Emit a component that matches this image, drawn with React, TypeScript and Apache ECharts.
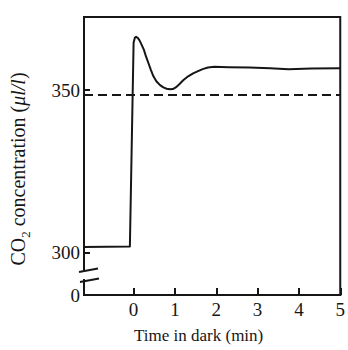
import React, { useEffect, useRef } from 'react';
import * as echarts from 'echarts';

const time = [-1.2, -0.09, 0.0, 0.03, 0.06, 0.1, 0.14, 0.19, 0.25, 0.3, 0.36, 0.42, 0.48, 0.55, 0.64, 0.72, 0.8, 0.88, 0.95, 1.02, 1.1, 1.2, 1.32, 1.44, 1.56, 1.67, 1.8, 1.95, 2.3, 2.8, 3.3, 3.75, 4.3, 5];
const co2 = [301.8, 302.0, 364.5, 366.0, 366.3, 366.0, 365.3, 364.0, 362.3, 360.3, 358.2, 356.1, 354.2, 352.7, 351.5, 350.8, 350.4, 350.2, 350.3, 350.8, 351.7, 353.0, 354.2, 355.1, 355.8, 356.4, 356.9, 357.1, 357.0, 356.9, 356.7, 356.4, 356.6, 356.7];
const ambientLevel = 348.5;
const xTickValues = [0, 1, 2, 3, 4, 5];
const yTickValues = [300, 350];
const yZeroValue = 287.1; // bottom of broken axis, labelled "0"
const breakUpper = 294.8;
const breakLower = 291.7;
const xMin = -1.2;
const xMax = 5;
const yMax = 372.4;

const FONT = 'Liberation Serif';
const INK = '#161616';

export default function App() {
  const ref = useRef<HTMLDivElement>(null);
  useEffect(() => {
    if (!ref.current) return;
    const chart = echarts.init(ref.current, null, { renderer: 'svg' });
    const data = time.map((t, i) => [t, co2[i]]);
    chart.setOption({
      animation: false,
      backgroundColor: '#ffffff',
      grid: {
        left: 82,
        right: 5,
        top: 17,
        bottom: 55,
        show: true,
        borderColor: INK,
        borderWidth: 2,
        backgroundColor: 'transparent',
      },
      xAxis: {
        type: 'value',
        min: xMin,
        max: xMax,
        name: 'Time in dark (min)',
        nameLocation: 'middle',
        nameGap: 32,
        nameTextStyle: { fontFamily: FONT, fontSize: 17, color: INK, padding: [0, 27, 0, 0] },
        axisLine: { show: true, onZero: false, lineStyle: { color: INK, width: 2 } },
        axisTick: { show: true, inside: true, length: 7, customValues: xTickValues, lineStyle: { color: INK, width: 2 } },
        axisLabel: { customValues: xTickValues, fontFamily: FONT, fontSize: 19, color: INK, margin: 5 },
        splitLine: { show: false },
      },
      yAxis: {
        type: 'value',
        min: yZeroValue,
        max: yMax,
        name: '{a|CO}{s|2}{a| concentration (}{i|μl/l}{a|)}',
        nameLocation: 'middle',
        nameGap: 56,
        nameTextStyle: {
          color: INK,
          padding: [0, 26, 0, 0],
          rich: {
            a: { fontFamily: FONT, fontSize: 20, color: INK },
            s: { fontFamily: FONT, fontSize: 13, color: INK, verticalAlign: 'bottom', padding: [0, 0, -4, 0] },
            i: { fontFamily: FONT, fontSize: 20, color: INK, fontStyle: 'italic' },
          },
        },
        axisLine: { show: true, onZero: false, lineStyle: { color: INK, width: 2 } },
        axisTick: { show: true, inside: true, length: 6, customValues: yTickValues, lineStyle: { color: INK, width: 2 } },
        axisLabel: {
          customValues: [yZeroValue, ...yTickValues],
          formatter: (v: number) => (v < 295 ? '0' : String(Math.round(v))),
          fontFamily: FONT,
          fontSize: 19,
          color: INK,
          margin: 4,
        },
        splitLine: { show: false },
      },
      series: [
        {
          type: 'line',
          data,
          showSymbol: false,
          smooth: false,
          lineStyle: { color: INK, width: 2, join: 'round' },
          markLine: {
            silent: true,
            symbol: 'none',
            label: { show: false },
            lineStyle: { color: INK, width: 2, type: [9, 5] },
            data: [{ yAxis: ambientLevel }],
          },
        },
      ],
    });

    const up = chart.convertToPixel({ gridIndex: 0 }, [xMin, breakUpper]) as number[];
    const lo = chart.convertToPixel({ gridIndex: 0 }, [xMin, breakLower]) as number[];
    const ax = up[0];
    chart.setOption({
      graphic: [
        { type: 'rect', shape: { x: ax - 3, y: up[1] + 1, width: 6, height: lo[1] - up[1] - 2 }, style: { fill: '#ffffff' }, z: 100 },
        { type: 'line', shape: { x1: ax - 5, y1: up[1] + 2, x2: ax + 14, y2: up[1] - 1.5 }, style: { stroke: INK, lineWidth: 2 }, z: 101 },
        { type: 'line', shape: { x1: ax - 4, y1: lo[1] + 2, x2: ax + 15, y2: lo[1] - 1.5 }, style: { stroke: INK, lineWidth: 2 }, z: 101 },
      ],
    });
    return () => chart.dispose();
  }, []);
  return <div ref={ref} style={{ position: 'fixed', left: 0, top: 0, width: 348, height: 350 }} />;
}
